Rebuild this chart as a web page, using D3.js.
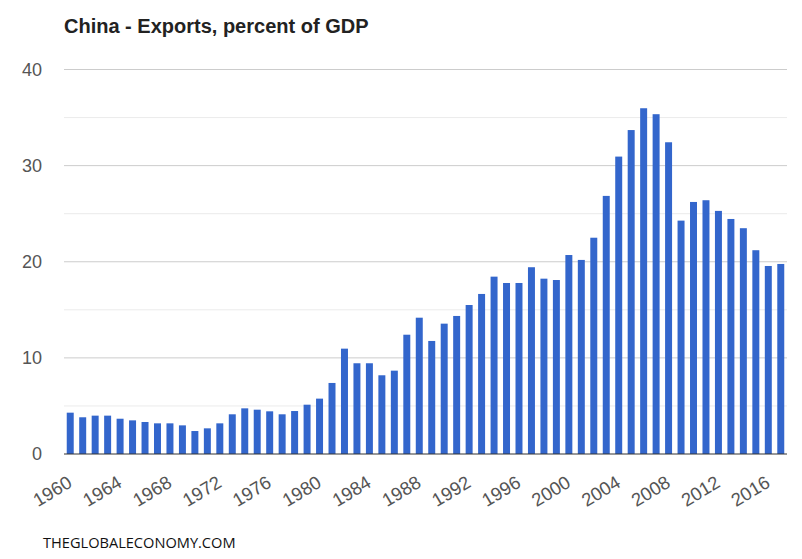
<!DOCTYPE html>
<html>
<head>
<meta charset="utf-8">
<script src="https://cdn.jsdelivr.net/npm/d3@7"></script>
<style>
  html, body { margin: 0; padding: 0; background: #fff; }
  svg { display: block; }
</style>
</head>
<body>
<svg id="chart" width="802" height="559"></svg>
<script>
const years = d3.range(1960, 2018);
const exportsPct = [
  4.30, 3.82, 3.99, 3.99, 3.67, 3.50, 3.33, 3.19, 3.19, 2.98,
  2.39, 2.67, 3.19, 4.13, 4.75, 4.61, 4.44, 4.13, 4.47, 5.13,
  5.76, 7.39, 10.96, 9.44, 9.44, 8.19, 8.67, 12.41, 14.18, 11.76,
  13.56, 14.36, 15.50, 16.65, 18.45, 17.79, 17.79, 19.43, 18.24, 18.10,
  20.70, 20.19, 22.50, 26.85, 30.94, 33.70, 35.97, 35.35, 32.43, 24.28,
  26.22, 26.40, 25.29, 24.45, 23.49, 21.20, 19.56, 19.77
];
const majorTicks = [0, 10, 20, 30, 40];
const minorTicks = [5, 15, 25, 35];
const xTickYears = [1960, 1964, 1968, 1972, 1976, 1980, 1984, 1988, 1992, 1996, 2000, 2004, 2008, 2012, 2016];
const titleText = "China - Exports, percent of GDP";
const sourceText = "THEGLOBALECONOMY.COM";

const data = years.map((y, i) => ({ year: y, value: exportsPct[i] }));

const svg = d3.select("#chart");
const x = d3.scaleBand().domain(years).range([64, 787]).paddingInner(0.44).paddingOuter(0.22);
const y = d3.scaleLinear().domain([0, 40]).range([454, 69.5]);

// minor gridlines
svg.append("g").selectAll("line").data(minorTicks).join("line")
  .attr("x1", 64).attr("x2", 787)
  .attr("y1", d => y(d)).attr("y2", d => y(d))
  .attr("stroke", "#ebebeb").attr("stroke-width", 1);

// major gridlines
svg.append("g").selectAll("line").data(majorTicks.filter(d => d !== 0)).join("line")
  .attr("x1", 64).attr("x2", 787)
  .attr("y1", d => y(d)).attr("y2", d => y(d))
  .attr("stroke", "#cccccc").attr("stroke-width", 1);

// y-axis labels
const yAxis = d3.axisLeft(y).tickValues(majorTicks).tickSize(0).tickPadding(0).tickFormat(d3.format("d"));
const yg = svg.append("g").attr("transform", "translate(42,0)").call(yAxis);
yg.select(".domain").remove();
yg.selectAll("text")
  .attr("font-family", "Arial, 'Liberation Sans', sans-serif")
  .attr("font-size", 18).attr("fill", "#555");

// bars
svg.append("g").selectAll("rect").data(data).join("rect")
  .attr("x", d => x(d.year))
  .attr("width", x.bandwidth())
  .attr("y", d => y(d.value))
  .attr("height", d => y(0) - y(d.value))
  .attr("fill", "#3366cc");

// baseline
svg.append("line")
  .attr("x1", 64).attr("x2", 787)
  .attr("y1", y(0)).attr("y2", y(0))
  .attr("stroke", "#333").attr("stroke-width", 1.2);

// x-axis labels
const xAxis = d3.axisBottom(x).tickValues(xTickYears).tickSize(0).tickPadding(0);
const xg = svg.append("g").call(xAxis);
xg.select(".domain").remove();
xg.selectAll(".tick text")
  .attr("font-family", "Arial, 'Liberation Sans', sans-serif")
  .attr("font-size", 18.5).attr("fill", "#555")
  .attr("text-anchor", "end")
  .attr("dy", null).attr("y", null)
  .attr("transform", "translate(3,486) rotate(-31)");

// title
svg.append("text")
  .attr("x", 64).attr("y", 33)
  .attr("font-family", "Arial, 'Liberation Sans', sans-serif")
  .attr("font-size", 20).attr("font-weight", "bold").attr("fill", "#222")
  .text(titleText);

// source
svg.append("text")
  .attr("x", 43).attr("y", 548)
  .attr("font-family", "'Open Sans', sans-serif")
  .attr("font-size", 14.6).attr("fill", "#111")
  .text(sourceText);
</script>
</body>
</html>
